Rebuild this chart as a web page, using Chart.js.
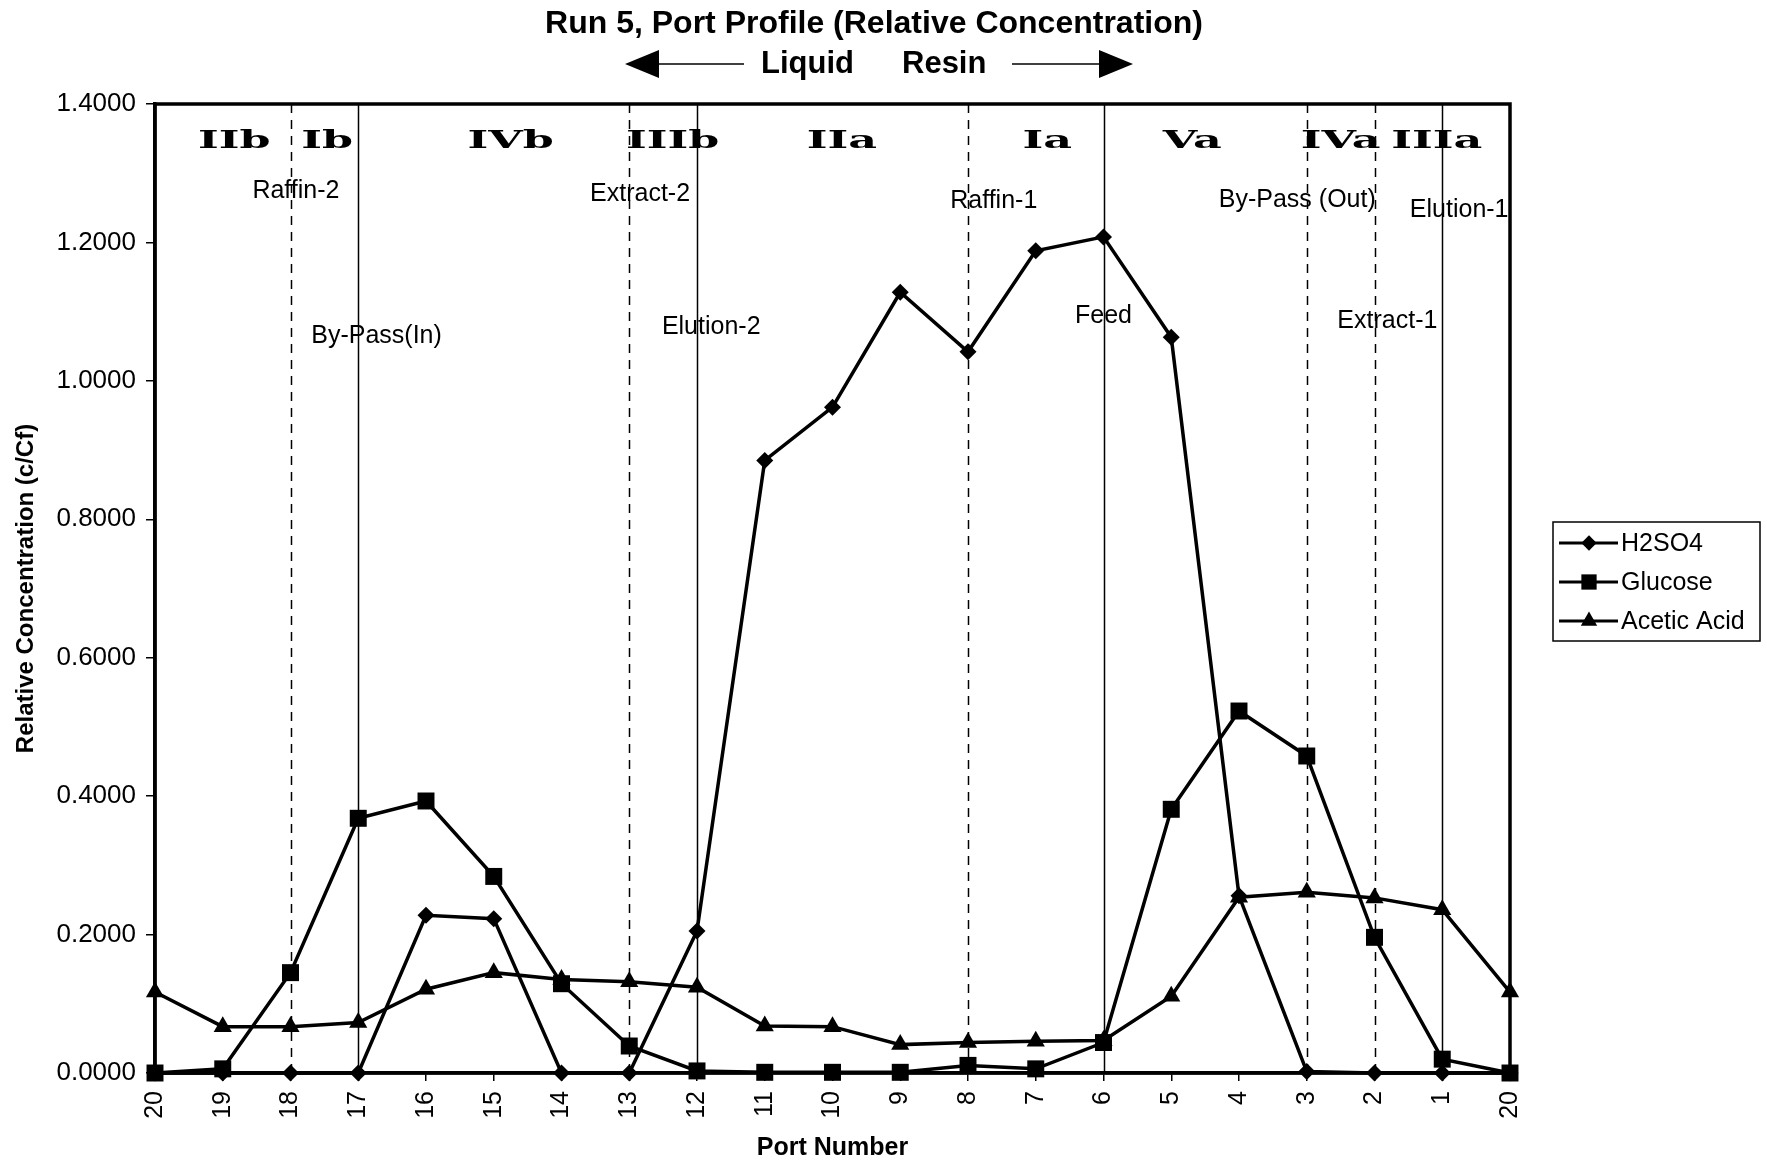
<!DOCTYPE html>
<html>
<head>
<meta charset="utf-8">
<script src="https://cdn.jsdelivr.net/npm/chart.js@4.4.1/dist/chart.umd.min.js"></script>
<style>
  html, body { margin: 0; padding: 0; background: #fff; }
  #wrap { width: 1767px; height: 1165px; position: relative; }
</style>
</head>
<body>
<div id="wrap"><canvas id="portChart" width="1767" height="1165"></canvas></div>
<script>
// ports in the order they were sampled (20 appears at both ends)
const ports = ['20', '19', '18', '17', '16', '15', '14', '13', '12', '11', '10',
               '9', '8', '7', '6', '5', '4', '3', '2', '1', '20'];

const h2so4 = [0, 0, 0, 0, 0.228, 0.223, 0, 0, 0.205, 0.885, 0.962,
               1.128, 1.042, 1.188, 1.208, 1.063, 0.256, 0.002, 0, 0, 0];
const glucose = [0, 0.006, 0.145, 0.368, 0.393, 0.284, 0.129, 0.039, 0.003, 0.001, 0.001,
                 0.001, 0.011, 0.006, 0.044, 0.381, 0.523, 0.458, 0.196, 0.020, 0];
const aceticAcid = [0.117, 0.067, 0.067, 0.073, 0.121, 0.145, 0.135, 0.132, 0.124, 0.068, 0.067,
                    0.041, 0.044, 0.046, 0.047, 0.111, 0.254, 0.261, 0.253, 0.236, 0.117];

const yTicks = [0, 0.2, 0.4, 0.6, 0.8, 1.0, 1.2, 1.4];

// port boundaries (index into ports)
const dashedPorts = [2, 7, 12, 17, 18];
const solidPorts = [3, 8, 14, 19];

// zone names and port names, placed at (category index, value)
const zoneLabels = [
    { t: 'IIb', i: 1.17 }, { t: 'Ib', i: 2.54 }, { t: 'IVb', i: 5.25 },
    { t: 'IIIb', i: 7.64 }, { t: 'IIa', i: 10.14 }, { t: 'Ia', i: 13.17 },
    { t: 'Va', i: 15.31 }, { t: 'IVa', i: 17.5 }, { t: 'IIIa', i: 18.92 }
];
const portLabels = [
    { t: 'Raffin-2', i: 2.08, v: 1.274 }, { t: 'Extract-2', i: 7.16, v: 1.270 },
    { t: 'Raffin-1', i: 12.38, v: 1.259 }, { t: 'By-Pass (Out)', i: 16.86, v: 1.261 },
    { t: 'Elution-1', i: 19.25, v: 1.246 }, { t: 'By-Pass(In)', i: 3.27, v: 1.065 },
    { t: 'Elution-2', i: 8.21, v: 1.078 }, { t: 'Feed', i: 14.0, v: 1.094 },
    { t: 'Extract-1', i: 18.19, v: 1.087 }
];

const SANS = '"Liberation Sans", Arial, sans-serif';

function drawMarker(ctx, style, x, y, r) {
    ctx.beginPath();
    if (style === 'rectRot') {
        ctx.moveTo(x, y - r); ctx.lineTo(x + r, y); ctx.lineTo(x, y + r); ctx.lineTo(x - r, y);
    } else if (style === 'rect') {
        const s = r * Math.SQRT1_2;
        ctx.rect(x - s, y - s, 2 * s, 2 * s);
    } else {
        ctx.moveTo(x, y - r); ctx.lineTo(x + r * 0.866, y + r / 2); ctx.lineTo(x - r * 0.866, y + r / 2);
    }
    ctx.closePath();
    ctx.fill();
}

const decorations = {
    id: 'decorations',
    beforeDatasetsDraw(chart) {
        const { ctx, chartArea: a, scales: { x, y } } = chart;
        ctx.save();
        ctx.strokeStyle = '#000';
        ctx.lineWidth = 1.5;
        dashedPorts.forEach(i => {
            const px = Math.round(x.getPixelForValue(i)) + 0.5;
            ctx.setLineDash([9, 7]);
            ctx.beginPath(); ctx.moveTo(px, a.top); ctx.lineTo(px, a.bottom); ctx.stroke();
        });
        ctx.setLineDash([]);
        solidPorts.forEach(i => {
            const px = Math.round(x.getPixelForValue(i)) + 0.5;
            ctx.beginPath(); ctx.moveTo(px, a.top); ctx.lineTo(px, a.bottom); ctx.stroke();
        });

        // zone names: wide bold serif
        ctx.fillStyle = '#000';
        ctx.font = 'bold 24px "DejaVu Serif", serif';
        ctx.textAlign = 'center';
        ctx.textBaseline = 'middle';
        const zy = y.getPixelForValue(1.345);
        zoneLabels.forEach(z => {
            ctx.save();
            ctx.translate(x.getPixelForValue(z.i), zy);
            ctx.scale(1.85, 1);
            ctx.fillText(z.t, 0, 0);
            ctx.restore();
        });

        ctx.font = '25px ' + SANS;
        portLabels.forEach(p => {
            ctx.fillText(p.t, x.getPixelForValue(p.i), y.getPixelForValue(p.v));
        });
        ctx.restore();
    },
    afterDraw(chart) {
        const { ctx, chartArea: a } = chart;
        ctx.save();
        // plot frame
        ctx.strokeStyle = '#000';
        ctx.lineWidth = 3.5;
        ctx.strokeRect(a.left, a.top, a.right - a.left, a.bottom - a.top);

        // title
        ctx.fillStyle = '#000';
        ctx.textAlign = 'center';
        ctx.textBaseline = 'middle';
        ctx.font = 'bold 32px ' + SANS;
        ctx.fillText('Run 5, Port Profile (Relative Concentration)', 874, 24);

        // Liquid <---   ---> Resin
        ctx.font = 'bold 31px ' + SANS;
        ctx.textAlign = 'left';
        ctx.fillText('Liquid', 761, 64);
        ctx.fillText('Resin', 902, 64);
        ctx.lineWidth = 1.5;
        ctx.beginPath(); ctx.moveTo(655, 64); ctx.lineTo(744, 64); ctx.stroke();
        ctx.beginPath(); ctx.moveTo(1012, 64); ctx.lineTo(1102, 64); ctx.stroke();
        ctx.beginPath(); ctx.moveTo(625, 64); ctx.lineTo(659, 50); ctx.lineTo(659, 78); ctx.closePath(); ctx.fill();
        ctx.beginPath(); ctx.moveTo(1133, 64); ctx.lineTo(1099, 50); ctx.lineTo(1099, 78); ctx.closePath(); ctx.fill();

        // legend
        const lx = 1553, ly = 522, lw = 207, lh = 119;
        ctx.fillStyle = '#fff';
        ctx.fillRect(lx, ly, lw, lh);
        ctx.lineWidth = 1.5;
        ctx.strokeRect(lx, ly, lw, lh);
        ctx.font = '25px ' + SANS;
        ctx.textBaseline = 'middle';
        chart.data.datasets.forEach((ds, k) => {
            const ey = ly + 21 + k * 39;
            ctx.strokeStyle = '#000';
            ctx.lineWidth = 3;
            ctx.beginPath(); ctx.moveTo(lx + 6, ey); ctx.lineTo(lx + 65, ey); ctx.stroke();
            ctx.fillStyle = '#000';
            drawMarker(ctx, ds.pointStyle, lx + 36, ey, ds.pointRadius * 0.9);
            ctx.fillText(ds.label, lx + 68, ey + 1);
        });
        ctx.restore();
    }
};

const ctx = document.getElementById('portChart').getContext('2d');
new Chart(ctx, {
    type: 'line',
    data: {
        labels: ports,
        datasets: [
            { label: 'H2SO4', data: h2so4, pointStyle: 'rectRot', pointRadius: 8.5 },
            { label: 'Glucose', data: glucose, pointStyle: 'rect', pointRadius: 12 },
            { label: 'Acetic Acid', data: aceticAcid, pointStyle: 'triangle', pointRadius: 10.5 }
        ].map(d => Object.assign(d, {
            borderColor: '#000', backgroundColor: '#000', borderWidth: 3.5,
            pointBorderWidth: 0, pointBackgroundColor: '#000', tension: 0, clip: false
        }))
    },
    options: {
        responsive: false,
        animation: false,
        devicePixelRatio: 1,
        layout: { padding: { top: 104, right: 257, left: 0, bottom: 0 } },
        plugins: {
            legend: { display: false },
            title: { display: false },
            tooltip: { enabled: false }
        },
        scales: {
            x: {
                afterFit(scale) { scale.height = 92; },
                grid: { drawOnChartArea: false, color: '#000', tickLength: 8, lineWidth: 1.5 },
                border: { display: true, color: '#000', width: 3.5 },
                ticks: {
                    color: '#000', font: { family: SANS, size: 25 },
                    minRotation: 90, maxRotation: 90, autoSkip: false, padding: 10
                },
                title: {
                    display: true, text: 'Port Number', color: '#000',
                    font: { family: SANS, size: 25, weight: 'bold' }, padding: { top: 0, bottom: 2 }
                }
            },
            y: {
                min: 0, max: 1.4,
                afterFit(scale) { scale.width = 155; },
                afterBuildTicks(scale) { scale.ticks = yTicks.map(v => ({ value: v })); },
                grid: { drawOnChartArea: false, color: '#000', tickLength: 9, lineWidth: 1.5 },
                border: { display: true, color: '#000', width: 3.5 },
                ticks: {
                    color: '#000', font: { family: SANS, size: 26 }, padding: 10,
                    callback: v => Number(v).toFixed(4)
                },
                title: {
                    display: true, text: 'Relative Concentration (c/Cf)', color: '#000',
                    font: { family: SANS, size: 24, weight: 'bold' }, padding: { top: 12, bottom: 0 }
                }
            }
        }
    },
    plugins: [decorations]
});
</script>
</body>
</html>
